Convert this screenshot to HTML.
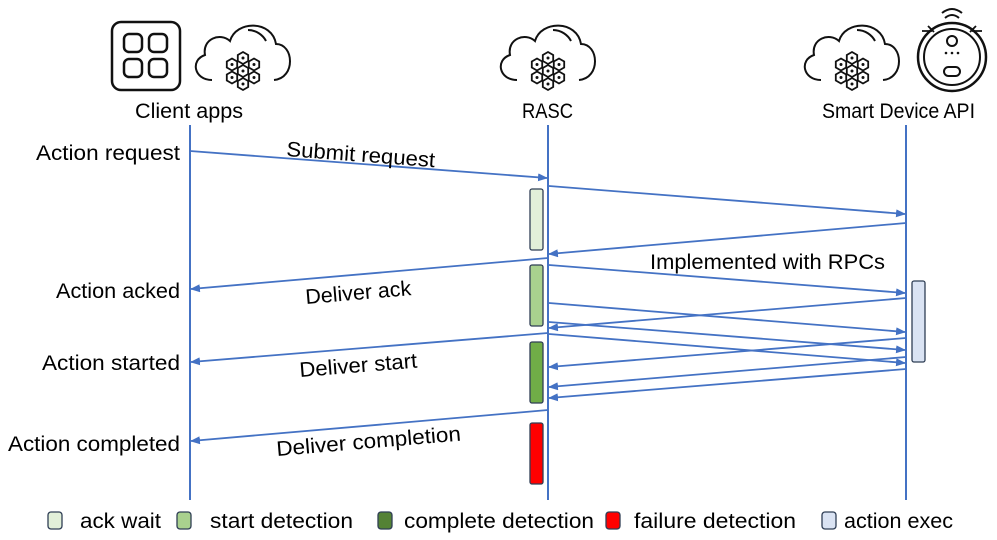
<!DOCTYPE html>
<html><head><meta charset="utf-8"><style>
html,body{margin:0;padding:0;background:#fff;}
svg{display:block;}
text{font-family:"Liberation Sans",sans-serif;font-size:21px;fill:#000;}
.lg{font-size:21px;}
</style></head><body>
<svg width="997" height="540" viewBox="0 0 997 540" xmlns="http://www.w3.org/2000/svg">
<defs>
<marker id="ah" markerWidth="10" markerHeight="8" refX="9" refY="4" orient="auto" markerUnits="userSpaceOnUse">
<path d="M0,0 L10,4 L0,8 z" fill="#4472c4"/></marker>
<g id="hex"><path d="M0,-6 L5.2,-3 L5.2,3 L0,6 L-5.2,3 L-5.2,-3 z" fill="#fff" stroke="#111" stroke-width="1.8"/><circle r="1.5" fill="#111"/></g>
<g id="cloud">
<path d="M22,60 C4,60 0,40 15,35 C12,19 30,12 40,21 C46,0 82,0 86,24 C104,24 106,58 84,60" fill="none" stroke="#111" stroke-width="2"/>
<path d="M58,10 C66,10 73,15 76,21" fill="none" stroke="#111" stroke-width="2"/>
<use href="#hex" x="53" y="38"/><use href="#hex" x="42" y="44.5"/><use href="#hex" x="64" y="44.5"/>
<use href="#hex" x="53" y="51"/><use href="#hex" x="42" y="57.5"/><use href="#hex" x="64" y="57.5"/><use href="#hex" x="53" y="64"/>
</g>
</defs>

<rect x="112" y="22" width="68" height="68" rx="9" fill="none" stroke="#111" stroke-width="2.5"/>
<rect x="124" y="34" width="18" height="18" rx="5" fill="none" stroke="#111" stroke-width="2.5"/>
<rect x="149" y="34" width="18" height="18" rx="5" fill="none" stroke="#111" stroke-width="2.5"/>
<rect x="124" y="59" width="18" height="18" rx="5" fill="none" stroke="#111" stroke-width="2.5"/>
<rect x="149" y="59" width="18" height="18" rx="5" fill="none" stroke="#111" stroke-width="2.5"/>
<use href="#cloud" x="190" y="20"/>
<use href="#cloud" x="495" y="20"/>
<use href="#cloud" x="799" y="20"/>
<circle cx="952" cy="57" r="34" fill="none" stroke="#111" stroke-width="2.5"/>
<circle cx="952" cy="57" r="28" fill="none" stroke="#111" stroke-width="2"/>
<circle cx="952" cy="41" r="5" fill="none" stroke="#111" stroke-width="2"/>
<circle cx="946" cy="53" r="1.3" fill="#111"/><circle cx="952" cy="53" r="1.3" fill="#111"/><circle cx="958" cy="53" r="1.3" fill="#111"/>
<rect x="944" y="67" width="16" height="9" rx="4.5" fill="none" stroke="#111" stroke-width="2"/>
<path d="M942,13 Q952,5 962,13 M945,18 Q952,12 959,18" fill="none" stroke="#111" stroke-width="2"/>
<path d="M928,26 l6,6 M922,31 l10,0 M976,26 l-6,6 M982,31 l-10,0" stroke="#111" stroke-width="1.8"/>

<text x="135" y="118" textLength="108" lengthAdjust="spacingAndGlyphs">Client apps</text>
<text x="522" y="118" textLength="51" lengthAdjust="spacingAndGlyphs">RASC</text>
<text x="822" y="118" textLength="153" lengthAdjust="spacingAndGlyphs">Smart Device API</text>

<g stroke="#4472c4" stroke-width="2">
<line x1="190" y1="125" x2="190" y2="500"/>
<line x1="548" y1="125" x2="548" y2="500"/>
<line x1="906" y1="125" x2="906" y2="500"/>
</g>

<g stroke="#2f3e55" stroke-width="1.3">
<rect x="530" y="189" width="13" height="61" rx="2" fill="#e2f0d9"/>
<rect x="530" y="265" width="13" height="61" rx="2" fill="#a9d18e"/>
<rect x="530" y="342" width="13" height="61" rx="2" fill="#70ad47"/>
<rect x="530" y="423" width="13" height="61" rx="2" fill="#ff0000"/>
<rect x="912" y="281" width="13" height="81" rx="2" fill="#dae3f3"/>
</g>

<g stroke="#4472c4" stroke-width="1.8" marker-end="url(#ah)">
<line x1="190" y1="151" x2="547" y2="178"/>
<line x1="549" y1="186" x2="905" y2="214"/>
<line x1="906" y1="223" x2="549" y2="254"/>
<line x1="548" y1="258" x2="191" y2="289"/>
<line x1="549" y1="265" x2="905" y2="293"/>
<line x1="906" y1="298" x2="549" y2="328"/>
<line x1="549" y1="303" x2="905" y2="332"/>
<line x1="549" y1="322" x2="905" y2="350"/>
<line x1="549" y1="334" x2="905" y2="363"/>
<line x1="906" y1="338" x2="549" y2="367"/>
<line x1="906" y1="357" x2="549" y2="387"/>
<line x1="906" y1="369" x2="549" y2="398"/>
<line x1="548" y1="333" x2="191" y2="362"/>
<line x1="548" y1="410" x2="191" y2="441"/>
</g>

<text x="36" y="160" textLength="144" lengthAdjust="spacingAndGlyphs">Action request</text>
<text x="56" y="298" textLength="124" lengthAdjust="spacingAndGlyphs">Action acked</text>
<text x="42" y="370" textLength="138" lengthAdjust="spacingAndGlyphs">Action started</text>
<text x="8" y="451" textLength="172" lengthAdjust="spacingAndGlyphs">Action completed</text>
<text x="286" y="156" transform="rotate(4.3 286 156)" textLength="149" lengthAdjust="spacingAndGlyphs">Submit request</text>
<text x="650" y="269" textLength="235" lengthAdjust="spacingAndGlyphs">Implemented with RPCs</text>
<text x="306" y="304" transform="rotate(-4.8 306 304)" textLength="106" lengthAdjust="spacingAndGlyphs">Deliver ack</text>
<text x="300" y="377" transform="rotate(-4.6 300 377)" textLength="118" lengthAdjust="spacingAndGlyphs">Deliver start</text>
<text x="277" y="456" transform="rotate(-4.8 277 456)" textLength="185" lengthAdjust="spacingAndGlyphs">Deliver completion</text>

<g stroke="#2f3e55" stroke-width="1.3">
<rect x="48" y="512" width="14" height="17" rx="3" fill="#e2f0d9"/>
<rect x="177" y="512" width="14" height="17" rx="3" fill="#a9d18e"/>
<rect x="378" y="512" width="14" height="17" rx="3" fill="#548235"/>
<rect x="606" y="512" width="14" height="17" rx="3" fill="#ff0000"/>
<rect x="822" y="512" width="14" height="17" rx="3" fill="#dae3f3"/>
</g>
<text class="lg" x="80" y="528" textLength="81" lengthAdjust="spacingAndGlyphs">ack wait</text>
<text class="lg" x="210" y="528" textLength="143" lengthAdjust="spacingAndGlyphs">start detection</text>
<text class="lg" x="404" y="528" textLength="190" lengthAdjust="spacingAndGlyphs">complete detection</text>
<text class="lg" x="634" y="528" textLength="162" lengthAdjust="spacingAndGlyphs">failure detection</text>
<text class="lg" x="844" y="528" textLength="109" lengthAdjust="spacingAndGlyphs">action exec</text>
</svg>
</body></html>
